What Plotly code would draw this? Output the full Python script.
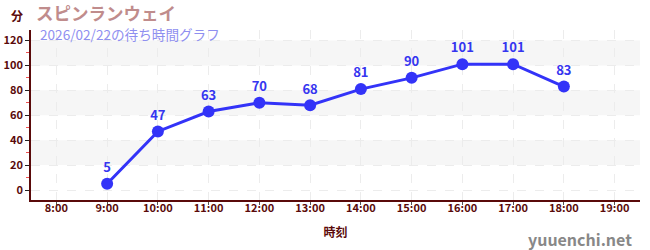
import plotly.graph_objects as go

hours = [9, 10, 11, 12, 13, 14, 15, 16, 17, 18]
waits = [5, 47, 63, 70, 68, 81, 90, 101, 101, 83]
x_tick_vals = [8, 9, 10, 11, 12, 13, 14, 15, 16, 17, 18, 19]
x_tick_text = ["8:00", "9:00", "10:00", "11:00", "12:00", "13:00", "14:00",
               "15:00", "16:00", "17:00", "18:00", "19:00"]
y_tick_vals = [0, 20, 40, 60, 80, 100, 120]
bands = [(20, 40), (60, 80), (100, 120)]

title_text = "スピンランウェイ"
subtitle_text = "2026/02/22の待ち時間グラフ"
y_unit = "分"
x_title = "時刻"
watermark = "yuuenchi.net"

FONT = "Noto Sans CJK JP"
DARK = "#5a0a0a"

fig = go.Figure()

for y0, y1 in bands:
    fig.add_shape(type="rect", xref="paper", yref="y", x0=0, x1=1, y0=y0, y1=y1,
                  fillcolor="#f6f6f6", line_width=0, layer="below")

fig.add_trace(go.Scatter(
    x=hours, y=waits, mode="lines+markers+text",
    text=[str(v) for v in waits], textposition="top center",
    textfont=dict(family=FONT, size=13, color="#3535f0", weight="bold"),
    line=dict(color="#3333f8", width=3),
    marker=dict(color="#3333f8", size=12),
    cliponaxis=False, hoverinfo="skip",
))

fig.update_layout(
    width=650, height=250,
    margin=dict(l=31, r=10, t=30, b=50, autoexpand=False),
    paper_bgcolor="white", plot_bgcolor="white",
    showlegend=False,
    font=dict(family=FONT, color=DARK),
    xaxis=dict(
        range=[7.5, 19.5], tickvals=x_tick_vals, ticktext=x_tick_text,
        showgrid=True, gridcolor="#ececec", griddash="dash", gridwidth=1,
        showline=True, linecolor=DARK, linewidth=1.5,
        ticks="outside", ticklen=3, tickcolor="#555", tickwidth=1,
        ticklabelstandoff=-6,
        tickfont=dict(family=FONT, size=11, color=DARK, weight="bold"),
        zeroline=False, fixedrange=True, automargin=False,
        title=dict(text=x_title, font=dict(family=FONT, size=12, color=DARK, weight="bold"), standoff=15),
    ),
    yaxis=dict(
        range=[-8, 128.4], tickvals=y_tick_vals,
        showgrid=True, gridcolor="#ececec", griddash="dash", gridwidth=1,
        showline=True, linecolor=DARK, linewidth=1.5,
        ticks="outside", ticklen=4, tickcolor="#222", tickwidth=1,
        tickfont=dict(family=FONT, size=11, color=DARK, weight="bold"),
        minor=dict(dtick=20, tick0=10, ticks="outside", ticklen=3, tickcolor="#f05050", showgrid=False),
        zeroline=False, fixedrange=True, automargin=False,
    ),
    annotations=[
        dict(text=title_text, xref="paper", yref="paper", x=0, xshift=3, y=1.0, yshift=32,
             xanchor="left", yanchor="top", showarrow=False,
             font=dict(family=FONT, size=17.5, color="#c08c8c", weight="bold")),
        dict(text=subtitle_text, xref="paper", yref="paper", x=0, xshift=7, y=1.0, yshift=8,
             xanchor="left", yanchor="top", showarrow=False,
             font=dict(family=FONT, size=13.6, color="#8f8ff0")),
        dict(text=y_unit, xref="paper", yref="paper", x=0, xshift=-22, y=1.0, yshift=25,
             xanchor="left", yanchor="top", showarrow=False,
             font=dict(family=FONT, size=12, color=DARK, weight="bold")),
        dict(text=watermark, xref="paper", yref="paper", x=1.0, xshift=-6, y=0, yshift=-25,
             xanchor="right", yanchor="top", showarrow=False,
             font=dict(family=FONT, size=16, color="#888888", weight="bold")),
    ],
)

fig.write_html("out.html")
